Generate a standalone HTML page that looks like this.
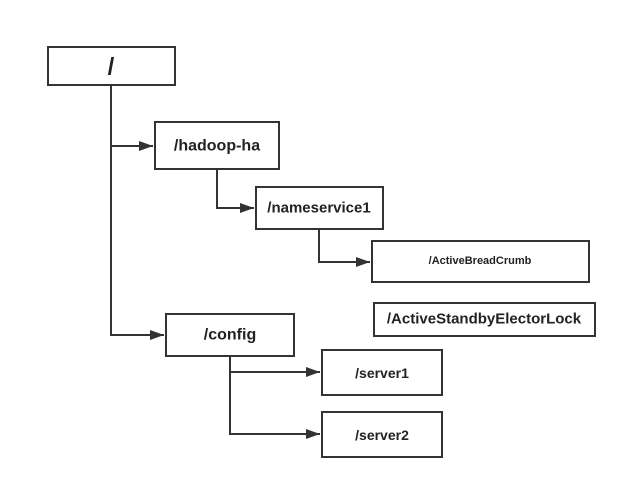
<!DOCTYPE html>
<html><head><meta charset="utf-8"><style>
html,body{margin:0;padding:0;background:#fff;}
svg{display:block}
text{font-family:"Liberation Sans",Arial,sans-serif;font-weight:bold;fill:#222;text-anchor:middle;dominant-baseline:central}
</style></head><body>
<svg width="627" height="489" viewBox="0 0 627 489" xmlns="http://www.w3.org/2000/svg">
<defs><marker id="a" markerWidth="14" markerHeight="10" refX="14" refY="5" orient="auto" markerUnits="userSpaceOnUse"><path d="M0,0 L14,5 L0,10 z" fill="#333"/></marker></defs>
<g fill="#fff" stroke="#333" stroke-width="2">
<rect x="48" y="47" width="127" height="38"/>
<rect x="155" y="122" width="124" height="47"/>
<rect x="256" y="187" width="127" height="42"/>
<rect x="372" y="241" width="217" height="41"/>
<rect x="374" y="303" width="221" height="33"/>
<rect x="166" y="314" width="128" height="42"/>
<rect x="322" y="350" width="120" height="45"/>
<rect x="322" y="412" width="120" height="45"/>
</g>
<g fill="none" stroke="#333" stroke-width="2">
<path d="M111,85 V335 H164" marker-end="url(#a)"/>
<path d="M111,146 H153" marker-end="url(#a)"/>
<path d="M217,169 V208 H254" marker-end="url(#a)"/>
<path d="M319,229 V262 H370" marker-end="url(#a)"/>
<path d="M230,356 V434 H320" marker-end="url(#a)"/>
<path d="M230,372 H320" marker-end="url(#a)"/>
</g>
<text x="111" y="67" font-size="24">/</text>
<text x="217" y="146" font-size="16">/hadoop-ha</text>
<text x="319" y="208" font-size="15">/nameservice1</text>
<text x="480" y="261" font-size="11">/ActiveBreadCrumb</text>
<text x="484" y="319" font-size="15">/ActiveStandbyElectorLock</text>
<text x="230" y="335" font-size="16">/config</text>
<text x="382" y="373" font-size="14">/server1</text>
<text x="382" y="435" font-size="14">/server2</text>
</svg>
</body></html>
